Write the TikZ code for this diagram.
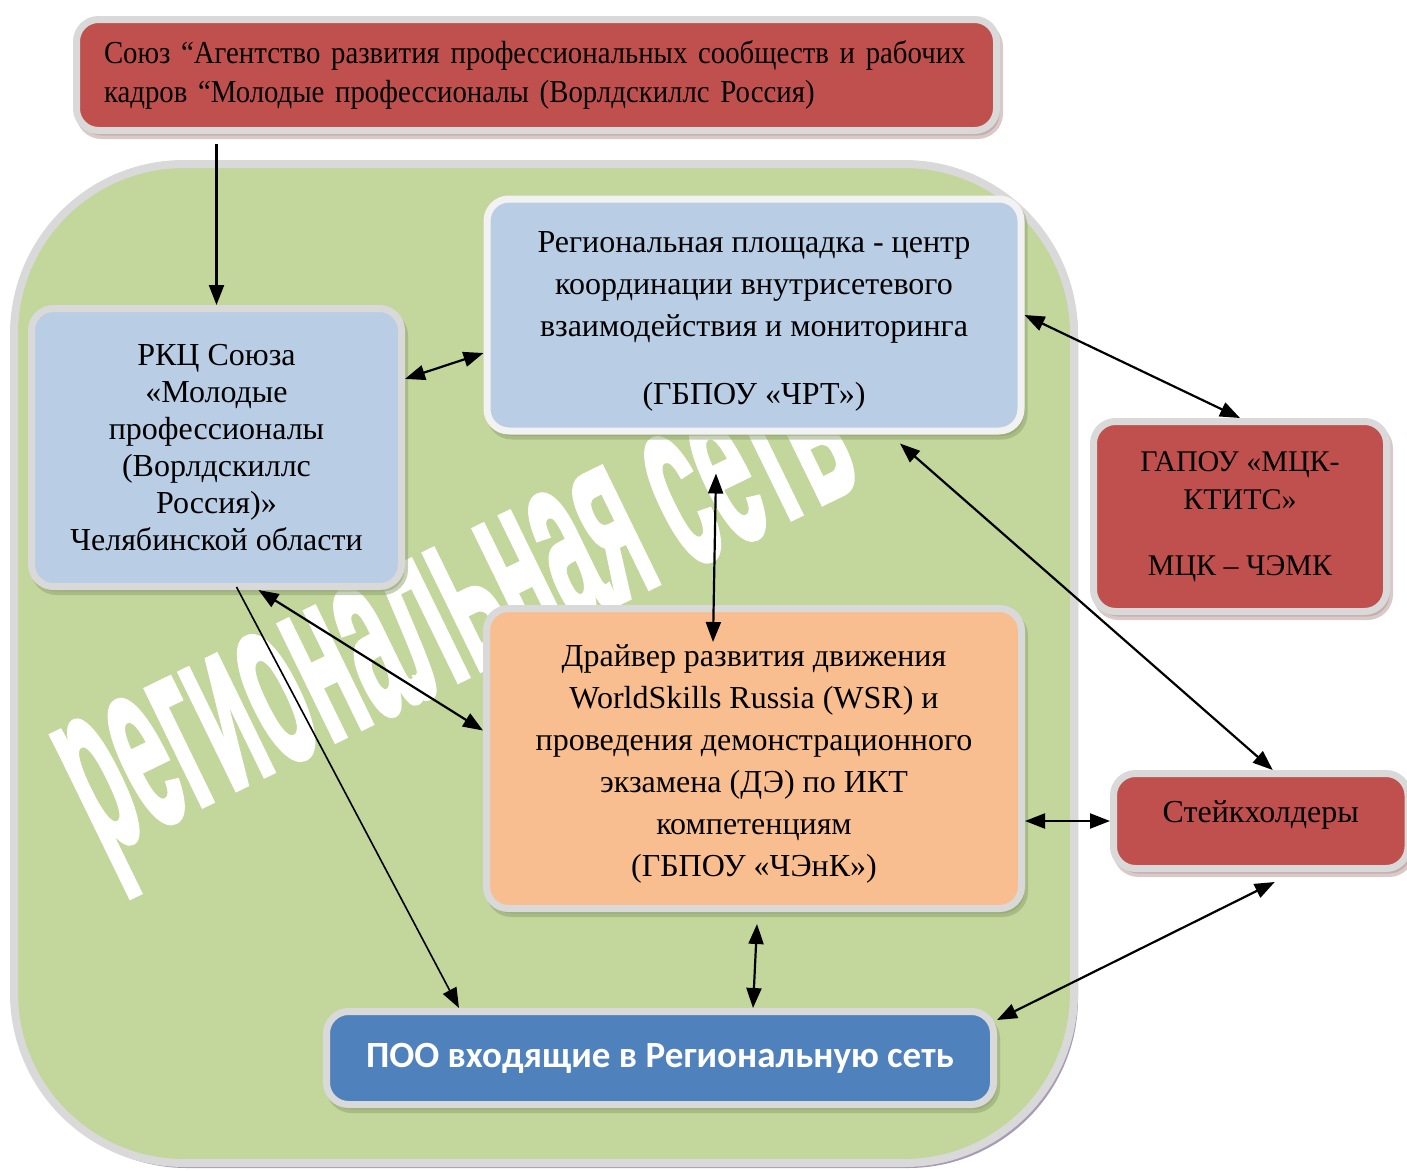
\documentclass[tikz,border=0pt]{standalone}
\usepackage{fontspec}
\setmainfont{Liberation Serif}
\newfontfamily\narrowserif{Liberation Serif}[FakeStretch=0.9]
\newfontfamily\calibri{Carlito}
\newfontfamily\wmfont{Liberation Sans Bold}[FakeBold=2.5]
\usetikzlibrary{positioning}
\usetikzlibrary{arrows.meta}
\usetikzlibrary{calc}
\usetikzlibrary{shadows}

\definecolor{netgreen}{HTML}{C3D69B}
\definecolor{framegrey}{HTML}{D9D9D9}
\definecolor{framewhite}{HTML}{F2F2F2}
\definecolor{redfill}{HTML}{C0504D}
\definecolor{bluefill}{HTML}{B9CDE5}
\definecolor{orangefill}{HTML}{F9BE8F}
\definecolor{poofill}{HTML}{4F81BD}
\definecolor{shadowred}{HTML}{B39393}
\definecolor{shadowgreen}{HTML}{8EA26E}
\definecolor{shadowbig}{HTML}{A69CB5}

\begin{document}
\begin{tikzpicture}[
    x=1pt, y=-1pt,
    box/.style={rectangle, rounded corners=22pt, line width=7pt, draw=framegrey,
        align=center, inner sep=0pt,
        drop shadow={shadow xshift=3pt, shadow yshift=-5pt, fill=#1, draw=#1, line width=7pt}},
    boxtext/.style={font=\fontsize{32}{37}\selectfont},
    link/.style={line width=2.2pt, {Triangle[length=20pt,width=15pt]}-{Triangle[length=20pt,width=15pt]}},
    onelink/.style={line width=2.2pt, -{Triangle[length=20pt,width=15pt]}}
]
    \useasboundingbox (0,0) rectangle (1407,1170);

    % Regional network background
    \fill[shadowbig, rounded corners=170pt] (17,168) rectangle (1078,1168);
    \draw[line width=8pt, draw=framegrey, fill=netgreen, rounded corners=170pt] (14,164) rectangle (1074,1163);

    % Watermark
    \node[rotate=26, text=white, font=\wmfont\fontsize{90}{90}\selectfont] (wm) at (466,632)
        {\scalebox{1}[2.7]{региональная сеть}};

    % Boxes
    \node[box=shadowred, fill=redfill, minimum width=920pt, minimum height=111pt,
        text width=865pt, align=left, font=\narrowserif\fontsize{32}{39}\selectfont] (union) at (536.5,75)
        {Союз “Агентство развития профессиональных сообществ и рабочих\\
         кадров “Молодые профессионалы (Ворлдскиллс Россия)};

    \node[box=shadowgreen, fill=bluefill, minimum width=370pt, minimum height=278pt, boxtext] (rkc) at (216.5,447.5)
        {РКЦ Союза\\«Молодые\\профессионалы\\(Ворлдскиллс\\Россия)»\\Челябинской области};

    \node[box=shadowgreen, fill=bluefill, draw=framewhite, minimum width=534pt, minimum height=232pt,
        font=\fontsize{32}{42}\selectfont] (reg) at (754,315)
        {\rule{0pt}{33pt}Региональная площадка - центр\\координации внутрисетевого\\взаимодействия и мониторинга\\[26pt]
         (ГБПОУ «ЧРТ»)};

    \node[box=shadowgreen, fill=orangefill, minimum width=535pt, minimum height=300pt,
        font=\fontsize{32}{42}\selectfont] (drv) at (754,758.5)
        {\rule{0pt}{33pt}Драйвер развития движения\\WorldSkills Russia (WSR) и\\проведения демонстрационного\\
         экзамена (ДЭ) по ИКТ\\компетенциям\\(ГБПОУ «ЧЭнК»)};

    \node[box=shadowred, fill=redfill, minimum width=293pt, minimum height=190pt,
        font=\fontsize{30}{38}\selectfont] (mck) at (1240,516.5)
        {ГАПОУ «МЦК-\\КТИТС»\\[28pt]МЦК – ЧЭМК};

    \node[box=shadowred, fill=redfill, minimum width=294.5pt, minimum height=95pt, boxtext] (stake) at (1260.75,821)
        {Стейкхолдеры\rule[-19pt]{0pt}{0pt}};

    \node[box=shadowgreen, fill=poofill, minimum width=667pt, minimum height=93pt,
        text=white, font=\calibri\bfseries\fontsize{37}{37}\selectfont] (poo) at (660,1058)
        {ПОО входящие в Региональную сеть};

    % Connections
    \draw[onelink, shorten <=10pt] (union.south -| rkc.north) -- (rkc.north);
    \draw[link] (rkc.20) -- (reg.188);
    \draw[link] (reg.east) -- (mck.north);
    \draw[link] ($(reg.south)+(146,9)$) -- ($(stake.north)+(12,0)$);
    \draw[link] ($(reg.south)+(-38,39)$) -- ($(drv.north)+(-41,37)$);
    \draw[link] ($(rkc.south)+(42,0)$) -- ($(drv.west)+(0,-28)$);
    \draw[onelink, line width=1.6pt] ($(rkc.south)+(20,-3)$) -- ($(poo.north west)+(136,0)$);
    \draw[link] (drv.east |- stake.west) -- (stake.west);
    \draw[link] ($(drv.south)+(3,12)$) -- ($(poo.north)+(93,0)$);
    \draw[link] ($(stake.south)+(14,10)$) -- ($(poo.north east)+(0,12)$);
\end{tikzpicture}
\end{document}
